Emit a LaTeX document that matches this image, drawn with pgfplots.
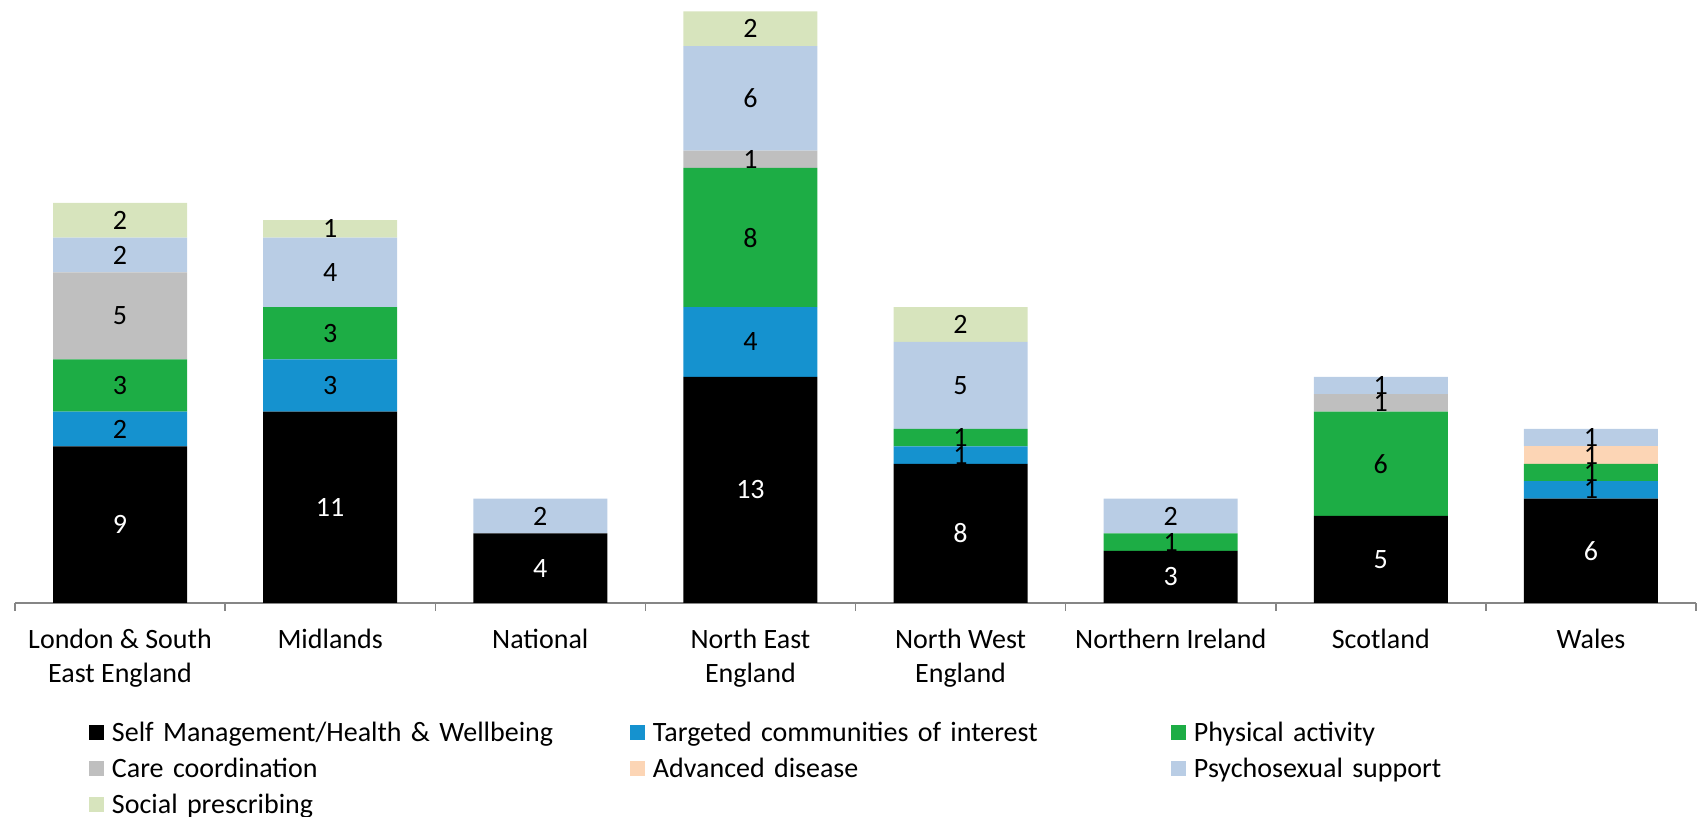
\documentclass[border=0pt]{standalone}
\usepackage{fontspec}
\setmainfont{Carlito}
\usepackage{pgfplots}
\usepackage{pgfplotstable}
\pgfplotsset{compat=1.18}
\definecolor{cSelf}{HTML}{000000}
\definecolor{cTarget}{HTML}{1592CF}
\definecolor{cPhys}{HTML}{1DAD45}
\definecolor{cCare}{HTML}{BFBFBF}
\definecolor{cAdv}{HTML}{FCD5B5}
\definecolor{cPsy}{HTML}{B9CDE5}
\definecolor{cSoc}{HTML}{D7E4BD}
\definecolor{axgray}{HTML}{868686}
\pgfplotstableread{
x self target phys care adv psy soc
0 9 2 3 5 0 2 2
1 11 3 3 0 0 4 1
2 4 0 0 0 0 2 0
3 13 4 8 1 0 6 2
4 8 1 1 0 0 5 2
5 3 0 1 0 0 2 0
6 5 0 6 1 0 1 0
7 6 1 1 0 1 1 0
}\datatable
\pgfplotsset{lab/.style={point meta=\thisrow{#1}}}
\begin{document}
\begin{tikzpicture}
\begin{axis}[
  name=ax,
  x=105.0625pt, y=8.7pt,
  xmin=-0.5, xmax=7.5, ymin=0, ymax=34.655,
  enlargelimits=false,
  ybar stacked, bar width=67pt,
  axis x line*=bottom, axis y line=none, ytick=\empty,
  x axis line style={draw=axgray, line width=0.75pt},
  xtick={0,...,7},
  xticklabels={{London \& South\\East England},Midlands,National,{North East\\England},{North West\\England},Northern Ireland,Scotland,Wales},
  major tick length=0pt,
  minor xtick={-0.5,0.5,...,7.5},
  minor x tick style={draw=axgray, line width=0.75pt},
  minor tick length=4pt,
  tick align=outside,
  xticklabel style={align=center, inner sep=0pt, anchor=north, yshift=-13pt, font=\fontsize{14}{17}\selectfont},
  /pgf/number format/assume math mode=true,
  nodes near coords={\pgfmathfloatifflags{\pgfplotspointmeta}{0}{}{\pgfmathprintnumber{\pgfplotspointmeta}}},
  every node near coord/.append style={anchor=center, inner sep=0pt, font=\fontsize{14}{17}\selectfont},
  legend columns=3,
  legend cell align=left,
  legend style={draw=none, fill=none, inner sep=0pt, outer sep=0pt,
    at={(axis description cs:0,0)}, anchor=north west, xshift=37pt, yshift=-56pt,
    nodes={inner sep=0pt, text width=259pt, text height=13.5pt, text depth=4.5pt, align=left, font=\fontsize{14}{17}\selectfont},
    /tikz/every odd column/.append style={column sep=4pt},
    row sep=0pt},
  legend image code/.code={\fill[#1] (0pt,-3.75pt) rectangle (7.5pt,3.75pt);},
]
\addplot[fill=cSelf, draw=none, lab=self, every node near coord/.append style={text=white}] table[x=x, y=self] {\datatable};
\addlegendentry{Self Management/Health \& Wellbeing}
\addplot[fill=cTarget, draw=none, lab=target] table[x=x, y=target] {\datatable};
\addlegendentry{Targeted communities of interest}
\addplot[fill=cPhys, draw=none, lab=phys] table[x=x, y=phys] {\datatable};
\addlegendentry{Physical activity}
\addplot[fill=cCare, draw=none, lab=care] table[x=x, y=care] {\datatable};
\addlegendentry{Care coordination}
\addplot[fill=cAdv, draw=none, lab=adv] table[x=x, y=adv] {\datatable};
\addlegendentry{Advanced disease}
\addplot[fill=cPsy, draw=none, lab=psy] table[x=x, y=psy] {\datatable};
\addlegendentry{Psychosexual support}
\addplot[fill=cSoc, draw=none, lab=soc] table[x=x, y=soc] {\datatable};
\addlegendentry{Social prescribing}
\end{axis}
\pgfresetboundingbox
\path[use as bounding box] ([xshift=-7.5pt,yshift=-107pt]ax.south west) rectangle ([xshift=842pt,yshift=301.5pt]ax.south west);
\end{tikzpicture}
\end{document}
